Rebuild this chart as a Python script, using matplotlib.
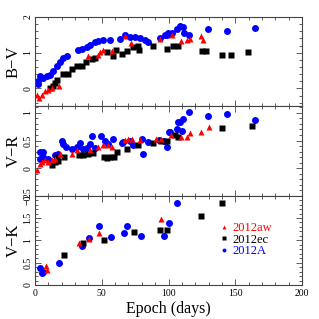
import matplotlib
matplotlib.use("Agg")
import matplotlib.pyplot as plt
from matplotlib.ticker import MultipleLocator
from matplotlib.lines import Line2D

# ---------------- data ----------------
# B-V
bv_A_t = [1.9, 2.5, 3.7, 6.2, 8.7, 11.2, 13.7, 16.2, 18.7, 21.2, 23.7, 32.5, 35, 38.7, 41.2, 45, 47.4,
          51.2, 56.2, 63.7, 67.4, 71.2, 74.9, 78.7, 82.4, 84.9, 93.6, 97.4, 98.6, 99.9, 102.4, 106.1,
          108.6, 111.1, 111.8, 115.4, 129.8, 143.8, 164.8]
bv_A_v = [0.12, 0.21, 0.35, 0.30, 0.35, 0.37, 0.49, 0.64, 0.75, 0.84, 0.92, 1.09, 1.11, 1.16, 1.22, 1.30, 1.32,
          1.35, 1.37, 1.39, 1.51, 1.44, 1.44, 1.41, 1.37, 1.30, 1.41, 1.49, 1.51, 1.54, 1.56, 1.66,
          1.74, 1.72, 1.56, 1.49, 1.66, 1.60, 1.68]
bv_aw_t = [1.2, 3.2, 5.0, 7.5, 10.0, 12.5, 18.2, 40.0, 47.4, 48.7, 51.2, 57.4, 67.4, 72.0, 94.0,
           102.9, 109.4, 113.6, 116.1, 124.3, 126.1]
bv_aw_v = [-0.17, -0.26, -0.17, -0.07, -0.03, 0.02, 0.07, 0.90, 0.94, 1.01, 1.09, 1.06, 1.47, 1.27, 1.39,
           1.49, 1.32, 1.37, 1.39, 1.47, 1.37]
bv_ec_t = [11.2, 13.7, 15.0, 16.2, 21.2, 25.0, 27.5, 31.2, 35.0, 38.2, 42.5, 45.0, 53.7, 58.7, 60.7,
           64.9, 68.7, 73.6, 77.4, 78.1, 88.6, 98.6, 103.6, 107.3, 124.8, 127.8, 139.8, 146.8, 159.8]
bv_ec_v = [0.02, 0.07, 0.16, 0.24, 0.40, 0.40, 0.54, 0.62, 0.64, 0.73, 0.83, 0.85, 1.03, 0.92, 1.09,
           0.97, 1.06, 1.15, 1.20, 1.09, 1.18, 1.11, 1.20, 1.18, 1.06, 1.06, 0.95, 0.95, 1.01]

# V-R
vr_A_t = [3.7, 5.7, 3.7, 6.2, 10.0, 15.0, 17.5, 20.0, 21.2, 23.2, 27.5, 31.2, 33.7, 36.2, 38.7, 42.5, 41.2,
          45.0, 49.4, 52.4, 54.9, 58.7, 64.9, 66.2, 71.2, 73.6, 79.9, 81.1, 84.9, 93.1, 96.6, 100.6,
          98.6, 101.0, 106.1, 107.3, 108.6, 111.0, 109.9, 115.6, 129.8, 143.8, 164.8]
vr_A_v = [0.30, 0.30, 0.17, 0.20, 0.17, 0.23, 0.26, 0.50, 0.44, 0.38, 0.35, 0.39, 0.45, 0.35, 0.37, 0.59, 0.44,
          0.37, 0.59, 0.50, 0.44, 0.53, 0.45, 0.48, 0.50, 0.41, 0.53, 0.26, 0.47, 0.51, 0.49, 0.65,
          0.39, 0.65, 0.71, 0.83, 0.83, 0.89, 0.67, 1.01, 0.95, 0.99, 0.87]
vr_aw_t = [1.7, 3.7, 5.0, 7.5, 10.0, 12.5, 15.0, 18.7, 27.5, 31.2, 41.2, 47.4, 51.2, 54.9, 57.4, 67.4,
           70.0, 72.4, 78.7, 90.6, 94.2, 101.9, 109.4, 113.6, 116.1, 124.3, 130.1]
vr_aw_v = [-0.03, 0.08, 0.11, 0.14, 0.11, 0.14, 0.17, 0.26, 0.26, 0.32, 0.32, 0.38, 0.41, 0.41, 0.38, 0.51,
           0.53, 0.53, 0.51, 0.52, 0.53, 0.60, 0.56, 0.57, 0.63, 0.65, 0.75]
vr_ec_t = [12.5, 15.0, 17.5, 16.2, 22.0, 33.2, 36.2, 40.0, 43.2, 51.7, 53.7, 56.2, 59.2, 61.7, 68.7,
           77.4, 88.6, 94.2, 98.6, 104.9, 107.3, 139.8, 162.8]
vr_ec_v = [0.05, 0.11, 0.13, 0.20, 0.20, 0.24, 0.23, 0.26, 0.27, 0.20, 0.19, 0.20, 0.21, 0.30, 0.35,
           0.42, 0.45, 0.50, 0.50, 0.60, 0.56, 0.72, 0.77]

# V-K
vk_A_t = [3.7, 5.0, 6.2, 17.7, 35.0, 40.7, 48.0, 56.7, 67.0, 68.6, 79.7, 96.6, 100.6, 106.0]
vk_A_v = [0.38, 0.26, 0.30, 0.49, 0.87, 1.05, 1.32, 1.08, 1.17, 1.32, 1.10, 1.09, 1.38, 1.84]
vk_aw_t = [8.2, 9.2, 33.2, 40.7, 47.7, 94.2]
vk_aw_v = [0.43, 0.34, 0.93, 1.04, 1.17, 1.47]
vk_ec_t = [22.0, 36.2, 51.7, 74.0, 94.0, 99.0, 124.0, 140.0]
vk_ec_v = [0.67, 0.93, 1.00, 1.18, 1.24, 1.23, 1.55, 1.84]

labels = ["2012aw", "2012ec", "2012A"]
colors = ["#ff0000", "#000000", "#0000ff"]

# ---------------- figure ----------------
plt.rcParams['font.family'] = ['Liberation Serif', 'DejaVu Serif']
fig = plt.figure(figsize=(3.19, 3.19), dpi=100)
left, right, top, bottom = 35/319, 302/319, 1-17/319, 1-285/319
gs = fig.add_gridspec(3, 1, left=left, right=right, top=top, bottom=bottom, hspace=0)
axes = [fig.add_subplot(gs[i]) for i in range(3)]

ms_c, ms_t, ms_s = 5.0, 4.6, 4.0

def draw(ax, A, aw, ec):
    ax.plot(A[0], A[1], 'o', color=colors[2], ms=ms_c, mec='none', zorder=2)
    ax.plot(aw[0], aw[1], '^', color=colors[0], ms=ms_t, mec='none', zorder=3)
    ax.plot(ec[0], ec[1], 's', color=colors[1], ms=ms_s, mec='none', zorder=2.5)

draw(axes[0], (bv_A_t, bv_A_v), (bv_aw_t, bv_aw_v), (bv_ec_t, bv_ec_v))
draw(axes[1], (vr_A_t, vr_A_v), (vr_aw_t, vr_aw_v), (vr_ec_t, vr_ec_v))
draw(axes[2], (vk_A_t, vk_A_v), (vk_aw_t, vk_aw_v), (vk_ec_t, vk_ec_v))

ylims = [(-0.5, 2.0), (-0.5, 1.12), (0.0, 2.0)]
ymaj = [1.0, 0.5, 0.5]
ymin = [0.2, 0.1, 0.1]
ylabs = ["B\u2212V", "V\u2212R", "V\u2212K"]
for ax, yl, mj, mn, lab in zip(axes, ylims, ymaj, ymin, ylabs):
    ax.set_xlim(0, 200)
    ax.set_ylim(*yl)
    ax.xaxis.set_major_locator(MultipleLocator(50))
    ax.xaxis.set_minor_locator(MultipleLocator(10))
    ax.yaxis.set_major_locator(MultipleLocator(mj))
    ax.yaxis.set_minor_locator(MultipleLocator(mn))
    ax.tick_params(which='both', direction='in', top=True, right=True, labelsize=7,
                   width=0.6, color='#444444')
    ax.tick_params(which='major', length=4.5)
    ax.tick_params(which='minor', length=2.2)
    for s in ax.spines.values():
        s.set_linewidth(0.8)
        s.set_color('#444444')
    ax.set_ylabel(lab, fontsize=12, labelpad=1)
    ax.tick_params(axis='y', pad=2)
    if ax is not axes[2]:
        ax.tick_params(labelbottom=False)

axes[0].set_yticks([0, 1, 2])
axes[0].set_yticklabels(["0", "1", "2"], rotation=90, va='center')
axes[1].set_yticks([-0.5, 0, 0.5, 1])
axes[1].set_yticklabels(["\u22120.5", "0", "0.5", "1"], rotation=90, va='center')
axes[2].set_yticks([0, 0.5, 1, 1.5, 2])
axes[2].set_yticklabels(["0", "0.5", "1", "1.5", "2"], rotation=90, va='center')
axes[2].set_xlabel("Epoch (days)", fontsize=11.5, labelpad=2)
axes[2].tick_params(axis='x', pad=3)

handles = [Line2D([], [], ls='none', marker=m, color=c, ms=2.8, mec='none')
           for m, c in zip(['^', 's', 'o'], colors)]
leg = axes[2].legend(handles, labels, loc='upper left', bbox_to_anchor=(0.67, 0.77),
                     frameon=False, fontsize=9, handlelength=0.6, handletextpad=0.4,
                     labelspacing=-0.05, borderpad=0, labelcolor=colors)

fig.savefig("out.png", dpi=100)
